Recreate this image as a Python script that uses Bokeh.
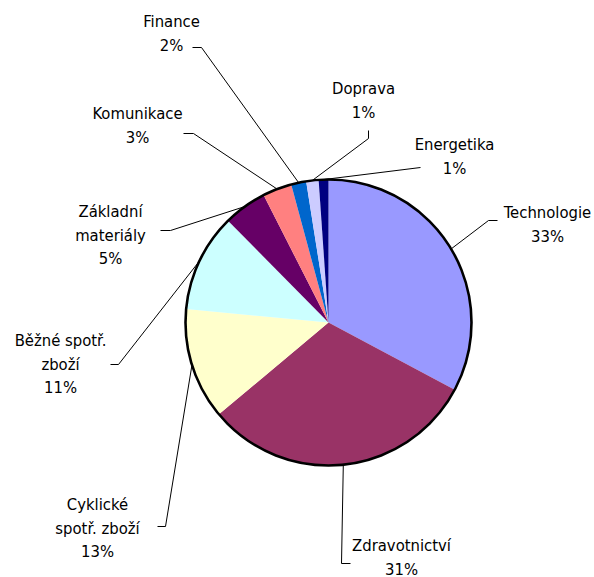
import math
from bokeh.plotting import figure
from bokeh.models import Range1d, ColumnDataSource
from bokeh.core.properties import value
from bokeh.embed import file_html
from bokeh.resources import INLINE

# ---- data ----
categories = ["Technologie", "Zdravotnictví", "Cyklické spotř. zboží", "Běžné spotř. zboží",
              "Základní materiály", "Komunikace", "Finance", "Doprava", "Energetika"]
label_lines = [["Technologie"], ["Zdravotnictví"], ["Cyklické", "spotř. zboží"],
               ["Běžné spotř.", "zboží"], ["Základní", "materiály"], ["Komunikace"],
               ["Finance"], ["Doprava"], ["Energetika"]]
values = [32.8, 31.1, 12.6, 11.1, 4.9, 3.3, 1.7, 1.4, 1.1]
colors = ["#9999FF", "#993366", "#FFFFCC", "#CCFFFF", "#660066", "#FF8080",
          "#0066CC", "#CCCCFF", "#000080"]

# ---- layout (screen pixel positions) ----
W, H = 594, 577
CX, CY, R = 328, 322, 143
# label centre x, first baseline y
label_pos = [(547, 212), (401, 545), (97, 504), (60, 340), (110, 211),
             (137, 113), (171, 21), (363, 88), (454, 144)]
LINE_H = 23.5
# leader points from the label side toward the pie
leader_pts = [[(497, 220), (488, 220)],
              [(350, 563), (341, 563)],
              [(157, 526), (165, 526)],
              [(110, 364), (118, 364)],
              [(160, 230), (170, 230)],
              [(183, 133), (193, 133)],
              [(192, 47), (201, 47)],
              [(368, 130), (368, 138)],
              [(420, 167)]]

p = figure(width=W, height=H, output_backend="svg", toolbar_location=None,
           x_range=Range1d(0, W), y_range=Range1d(-H, 0), min_border=0)
p.axis.visible = False
p.grid.visible = False
p.outline_line_color = None
p.background_fill_color = "white"
p.border_fill_color = "white"

total = sum(values)
starts, ends, mids = [], [], []
cum = 0.0
for v in values:
    a0 = math.pi / 2 - 2 * math.pi * cum / total
    cum += v
    a1 = math.pi / 2 - 2 * math.pi * cum / total
    starts.append(a1)
    ends.append(a0)
    mids.append((a0 + a1) / 2)

src = ColumnDataSource(dict(start=starts, end=ends, color=colors, cat=categories))
p.wedge(x=CX, y=-CY, radius=R, start_angle="start", end_angle="end",
        fill_color="color", line_color=None, source=src)
p.circle(x=CX, y=-CY, radius=R, fill_color=None, line_color="black", line_width=2.6)

# leader lines
xs, ys = [], []
for pts, m in zip(leader_pts, mids):
    px = CX + R * math.cos(m)
    py = -CY + R * math.sin(m)
    xs.append([q[0] for q in pts] + [px])
    ys.append([-q[1] for q in pts] + [py])
p.multi_line(xs=xs, ys=ys, line_color="black", line_width=1)

# labels
tx, ty, tt = [], [], []
for lines, v, (lx, ly) in zip(label_lines, values, label_pos):
    allines = lines + [f"{round(100 * v / total)}%"]
    for i, t in enumerate(allines):
        tx.append(lx)
        ty.append(-(ly + i * LINE_H))
        tt.append(t)
p.text(x=tx, y=ty, text=tt, text_align="center", text_baseline="alphabetic",
       text_font=value("DejaVu Sans Condensed"), text_font_size="16.5px", text_color="black")

open("out.html", "w").write(file_html(p, INLINE))
